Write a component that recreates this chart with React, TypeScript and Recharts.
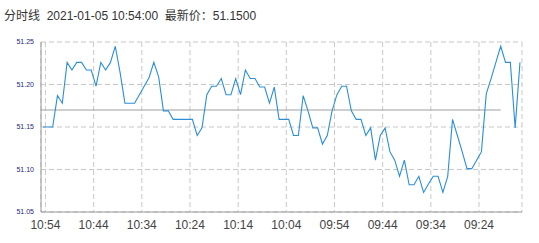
import {
  LineChart,
  Line,
  XAxis,
  YAxis,
  CartesianGrid,
  ReferenceLine,
} from "recharts";

const TITLE = "分时线  2021-01-05 10:54:00  最新价：51.1500";

// minutes, newest first (as drawn left -> right)
const TIMES = [
  "10:54", "10:53", "10:52", "10:51", "10:50", "10:49", "10:48", "10:47", "10:46", "10:45",
  "10:44", "10:43", "10:42", "10:41", "10:40", "10:39", "10:38", "10:37", "10:36", "10:35",
  "10:34", "10:33", "10:32", "10:31", "10:30", "10:29", "10:28", "10:27", "10:26", "10:25",
  "10:24", "10:23", "10:22", "10:21", "10:20", "10:19", "10:18", "10:17", "10:16", "10:15",
  "10:14", "10:13", "10:12", "10:11", "10:10", "10:09", "10:08", "10:07", "10:06", "10:05",
  "10:04", "10:03", "10:02", "10:01", "10:00", "09:59", "09:58", "09:57", "09:56", "09:55",
  "09:54", "09:53", "09:52", "09:51", "09:50", "09:49", "09:48", "09:47", "09:46", "09:45",
  "09:44", "09:43", "09:42", "09:41", "09:40", "09:39", "09:38", "09:37", "09:36", "09:35",
  "09:34", "09:33", "09:32", "09:31", "09:30", "09:29", "09:28", "09:27", "09:26", "09:25",
  "09:24", "09:23", "09:22", "09:21", "09:20", "09:19", "09:18", "09:17", "09:16", "09:15",
];

const PRICES = [
  51.15, 51.15, 51.15, 51.187, 51.178, 51.226, 51.217, 51.226, 51.226, 51.217,
  51.217, 51.198, 51.226, 51.217, 51.226, 51.245, 51.214, 51.178, 51.178, 51.178,
  51.188, 51.198, 51.208, 51.226, 51.209, 51.169, 51.169, 51.159, 51.159, 51.159,
  51.159, 51.159, 51.14, 51.149, 51.188, 51.198, 51.198, 51.207, 51.188, 51.188,
  51.207, 51.188, 51.217, 51.207, 51.207, 51.197, 51.197, 51.178, 51.197, 51.159,
  51.159, 51.159, 51.14, 51.14, 51.187, 51.169, 51.149, 51.149, 51.13, 51.14,
  51.169, 51.188, 51.198, 51.198, 51.169, 51.159, 51.159, 51.14, 51.149, 51.111,
  51.14, 51.149, 51.121, 51.111, 51.092, 51.111, 51.082, 51.082, 51.092, 51.073,
  51.083, 51.092, 51.092, 51.073, 51.092, 51.159, 51.14, 51.121, 51.101, 51.101,
  51.111, 51.121, 51.189, 51.207, 51.226, 51.245, 51.226, 51.226, 51.149, 51.226,
];

const PREV_CLOSE = 51.17;
const AVG_END = 95; // gray line stops at this minute index

const Y_TICKS = [51.05, 51.1, 51.15, 51.2, 51.25];
const X_TICKS = [0.5, 10.5, 20.5, 30.5, 40.5, 50.5, 60.5, 70.5, 80.5, 90.5];
const X_MIN = -0.42;
const X_MAX = 99.42;

const data = TIMES.map((t, i) => ({ idx: i, time: t, price: PRICES[i] }));

export default function App() {
  return (
    <div style={{ position: "absolute", left: 0, top: 0, width: 539, height: 243 }}>
      <div
        style={{
          position: "absolute",
          left: 4,
          top: 9,
          fontSize: 12,
          lineHeight: "14px",
          color: "#333",
          whiteSpace: "pre",
          fontFamily: "'Liberation Sans', 'Noto Sans CJK SC', sans-serif",
        }}
      >
        {TITLE}
      </div>
      <LineChart
        width={539}
        height={243}
        data={data}
        margin={{ top: 42, right: 17, bottom: 0, left: 0 }}
      >
        <CartesianGrid
          stroke="#c8c8c8"
          strokeDasharray="5 3"
          verticalPoints={undefined}
        />
        <XAxis
          dataKey="idx"
          type="number"
          domain={[X_MIN, X_MAX]}
          ticks={X_TICKS}
          tickFormatter={(v: number) => TIMES[Math.floor(v)]}
          height={31}
          tickSize={0}
          tickMargin={8}
          axisLine={{ stroke: "#999" }}
          tick={{ fontSize: 12, fill: "#444", fontFamily: "'Liberation Sans', Arial, sans-serif" }}
          allowDataOverflow
        />
        <YAxis
          domain={[51.05, 51.25]}
          ticks={Y_TICKS}
          tickFormatter={(v: number) => v.toFixed(2)}
          width={41}
          tickSize={0}
          tickMargin={7}
          axisLine={{ stroke: "#999" }}
          tick={{ fontSize: 7, fill: "#23297a", fontFamily: "'Liberation Sans', Arial, sans-serif" }}
          allowDataOverflow
        />
        <YAxis
          yAxisId="right"
          orientation="right"
          width={0}
          tick={false}
          axisLine={{ stroke: "#aaa" }}
        />
        <ReferenceLine
          segment={[
            { x: X_MIN, y: PREV_CLOSE },
            { x: AVG_END, y: PREV_CLOSE },
          ]}
          stroke="#a0a0a0"
          strokeWidth={1.2}
          ifOverflow="visible"
        />
        <Line
          type="linear"
          dataKey="price"
          stroke="#2b8fd8"
          strokeWidth={1.1}
          dot={false}
          isAnimationActive={false}
        />
      </LineChart>
    </div>
  );
}
